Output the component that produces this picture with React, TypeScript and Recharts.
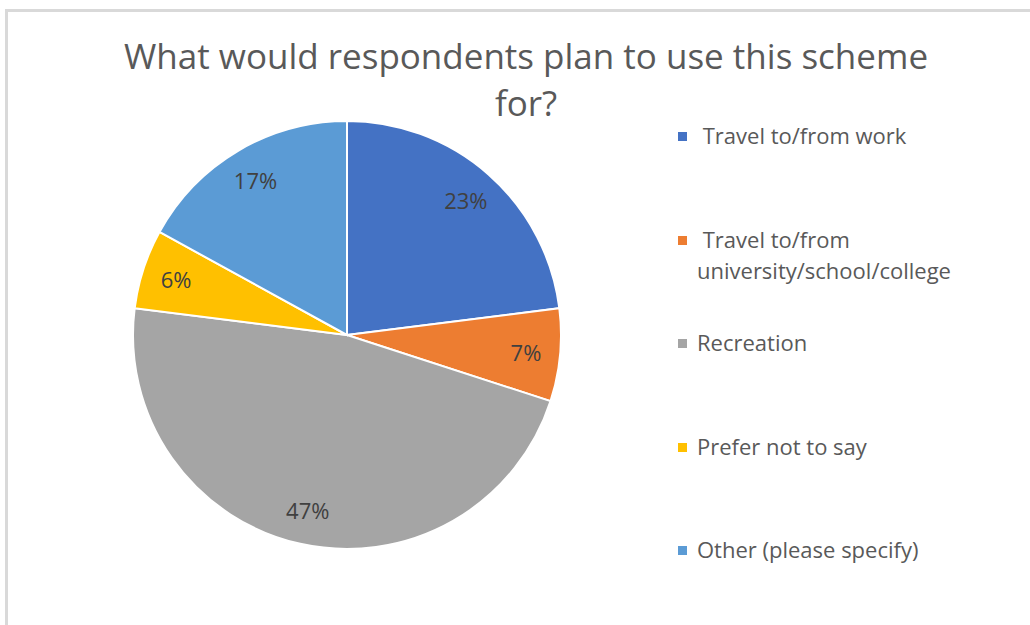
import React from "react";
import { PieChart, Pie, Cell } from "recharts";

const categories = [
  " Travel to/from work",
  " Travel to/from university/school/college",
  "Recreation",
  "Prefer not to say",
  "Other (please specify)",
];
const values = [23, 7, 47, 6, 17];
const colors = ["#4472C4", "#ED7D31", "#A5A5A5", "#FFC000", "#5B9BD5"];
const titleLines = ["What would respondents plan to use this scheme", "for?"];

const data = categories.map((name, i) => ({ name, value: values[i] }));

const FONT = "'Open Sans', 'Noto Sans', sans-serif";
const RAD = Math.PI / 180;

const renderLabel = (props: any) => {
  const { cx, cy, midAngle, outerRadius, value } = props;
  const r = outerRadius * 0.84;
  const x = cx + r * Math.cos(-midAngle * RAD);
  const y = cy + r * Math.sin(-midAngle * RAD);
  return (
    <text
      x={x}
      y={y}
      fill="#404040"
      fontSize={22}
      fontFamily={FONT}
      textAnchor="middle"
      dominantBaseline="central"
    >
      {`${value}%`}
    </text>
  );
};

export default function App() {
  return (
    <div
      style={{
        position: "absolute",
        left: 0,
        top: 0,
        width: 1030,
        height: 625,
        background: "#fff",
        overflow: "hidden",
      }}
    >
      <div
        style={{
          position: "absolute",
          left: 5,
          top: 9,
          width: 1100,
          height: 700,
          border: "3px solid #d9d9d9",
        }}
      />
      {titleLines.map((t, i) => (
        <div
          key={t}
          style={{
            position: "absolute",
            left: 526,
            top: 32 + i * 47,
            transform: "translateX(-50%)",
            whiteSpace: "nowrap",
            fontFamily: FONT,
            fontSize: 35,
            lineHeight: "47px",
            color: "#595959",
          }}
        >
          {t}
        </div>
      ))}
      <div style={{ position: "absolute", left: 0, top: 0 }}>
        <PieChart width={1030} height={625}>
          <Pie
            data={data}
            dataKey="value"
            nameKey="name"
            cx={342}
            cy={330}
            outerRadius={214}
            startAngle={90}
            endAngle={-270}
            stroke="#ffffff"
            strokeWidth={2}
            label={renderLabel}
            labelLine={false}
            isAnimationActive={false}
          >
            {data.map((d, i) => (
              <Cell key={d.name} fill={colors[i]} />
            ))}
          </Pie>
        </PieChart>
      </div>
      {categories.map((c, i) => (
        <div
          key={c}
          style={{
            position: "absolute",
            left: 678,
            top: 120 + i * 103.5,
            width: 320,
            fontFamily: FONT,
            fontSize: 22,
            lineHeight: "31px",
            color: "#595959",
            display: "flex",
            alignItems: "flex-start",
          }}
        >
          <span
            style={{
              display: "inline-block",
              width: 9,
              height: 9,
              marginTop: 12,
              marginRight: 10,
              background: colors[i],
              flex: "none",
            }}
          />
          <span style={{ whiteSpace: "pre-wrap", width: 300 }}>{c}</span>
        </div>
      ))}
    </div>
  );
}
